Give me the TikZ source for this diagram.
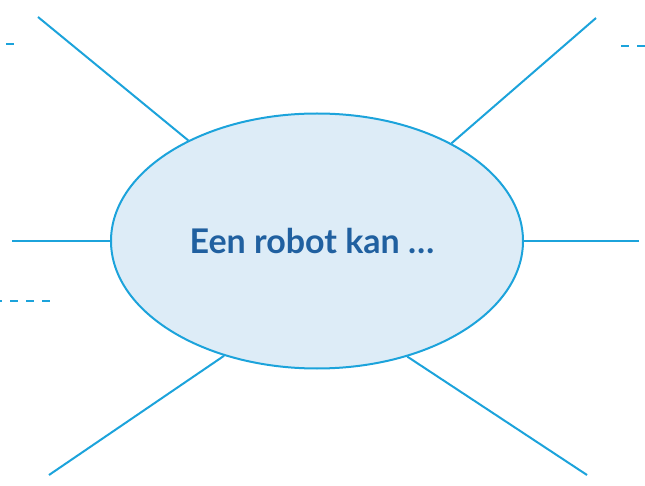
\documentclass[tikz,border=0pt]{standalone}
\usepackage{fontspec}
\setmainfont{Lato}
\usepackage{tikz}
\usetikzlibrary{shapes.geometric}
\definecolor{spoke}{RGB}{28,163,219}
\definecolor{bubble}{RGB}{221,236,247}
\definecolor{ink}{RGB}{32,96,160}

\begin{document}
\begin{tikzpicture}[x=1pt, y=1pt, spokeline/.style={spoke, line width=2pt}, dashline/.style={spoke, line width=1.6pt, dash pattern=on 8pt off 8pt}, hub/.style={draw=spoke, line width=2pt, fill=bubble, ellipse, minimum width=412pt, minimum height=255pt, inner sep=0pt}]
	\useasboundingbox (0,0) rectangle (645,485);
	\node[hub, font=\fontsize{34}{40}\selectfont\bfseries, text=ink] (robot) at (317,244) {Een robot kan \dots\kern10pt\relax};
	\coordinate (tl) at (38,468);
	\coordinate (tr) at (596,467);
	\coordinate (ml) at (12,244);
	\coordinate (mr) at (639,244);
	\coordinate (bl) at (49,10);
	\coordinate (br) at (587,10);
	\draw[spokeline] (tl) -- (robot.142.5);
	\draw[spokeline] (tr) -- (robot.36.7);
	\draw[spokeline] (ml) -- (robot.west);
	\draw[spokeline] (mr) -- (robot.east);
	\draw[spokeline] (bl) -- (robot.231.9);
	\draw[spokeline] (br) -- (robot.308.7);
	% loose dashes
	\draw[dashline] (6,441) -- (15,441);
	\draw[dashline] (621,439) -- (645,439);
	\draw[dashline] (-6,184) -- (50,184);
\end{tikzpicture}
\end{document}
